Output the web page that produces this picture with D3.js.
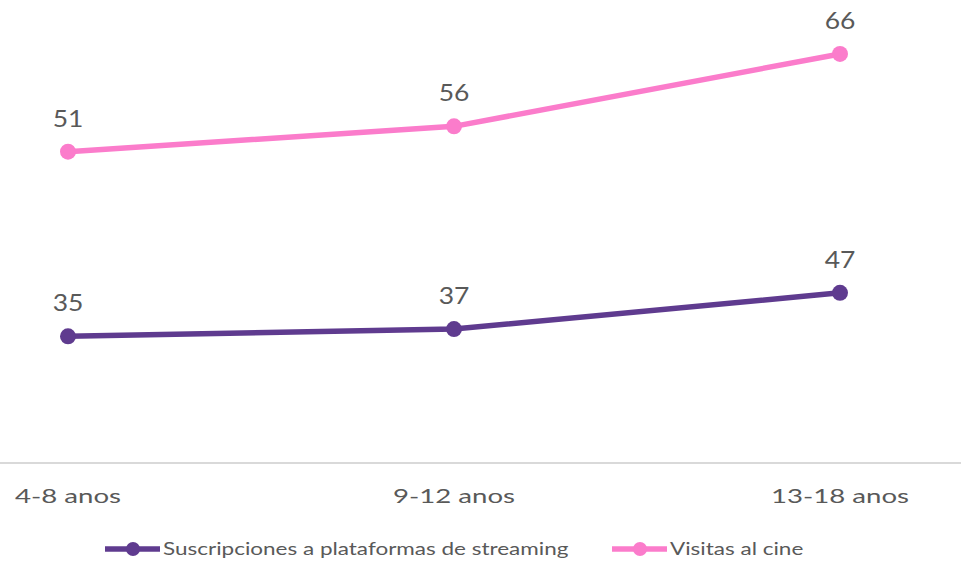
<html>
<head>
<script src="https://cdn.jsdelivr.net/npm/d3@7"></script>
<style>
  body { margin: 0; background: #fff; }
  text { font-family: Lato, "Open Sans", sans-serif; fill: #595959; }
</style>
</head>
<body>
<svg width="961" height="561"></svg>
<script>
const categories = ["4-8 anos", "9-12 anos", "13-18 anos"];
const seriesNames = ["Suscripciones a plataformas de streaming", "Visitas al cine"];
const streaming = [35, 37, 47];
const cine = [51, 56, 66];
const colors = ["#5f3b8f", "#fb7ccb"];

const svg = d3.select("svg");
const baseY = 463;

const x = d3.scalePoint().domain(categories).range([68, 840]);
const y = d3.scaleLinear().domain([0, 120]).range([baseY, baseY - 120 * 3.62]);

// stacked line: second series sits on top of the first
const series = [
  streaming.map((v, i) => ({ cat: categories[i], v: v, top: v })),
  cine.map((v, i) => ({ cat: categories[i], v: v, top: v + streaming[i] }))
];

// baseline axis
svg.append("line")
  .attr("x1", 0).attr("x2", 961)
  .attr("y1", baseY).attr("y2", baseY)
  .attr("stroke", "#d9d9d9").attr("stroke-width", 2);

const line = d3.line().x(d => x(d.cat)).y(d => y(d.top));

series.forEach((s, k) => {
  svg.append("path")
    .datum(s)
    .attr("d", line)
    .attr("fill", "none")
    .attr("stroke", colors[k])
    .attr("stroke-width", 5.5);

  svg.selectAll(".pt" + k)
    .data(s).enter().append("circle")
    .attr("cx", d => x(d.cat))
    .attr("cy", d => y(d.top))
    .attr("r", 8)
    .attr("fill", colors[k]);

  svg.selectAll(".lbl" + k)
    .data(s).enter().append("text")
    .attr("transform", d => "translate(" + x(d.cat) + "," + (y(d.top) - 25) + ") scale(1.15,1)")
    .attr("text-anchor", "middle")
    .attr("font-size", 23)
    .text(d => d.v);
});

// category labels
svg.selectAll(".cat")
  .data(categories).enter().append("text")
  .attr("transform", d => "translate(" + x(d) + ",503) scale(1.38,1)")
  .attr("text-anchor", "middle")
  .attr("font-size", 20)
  .text(d => d);

// legend
const legendX = [105, 612];
seriesNames.forEach((name, k) => {
  const g = svg.append("g").attr("transform", "translate(" + legendX[k] + ",549)");
  g.append("line").attr("x1", 0).attr("x2", 55).attr("y1", 0).attr("y2", 0)
    .attr("stroke", colors[k]).attr("stroke-width", 5.5);
  g.append("circle").attr("cx", 28).attr("cy", 0).attr("r", 7).attr("fill", colors[k]);
  g.append("text")
    .attr("transform", "translate(58,6) scale(1.25,1)")
    .attr("font-size", 18)
    .text(name);
});
</script>
</body>
</html>
